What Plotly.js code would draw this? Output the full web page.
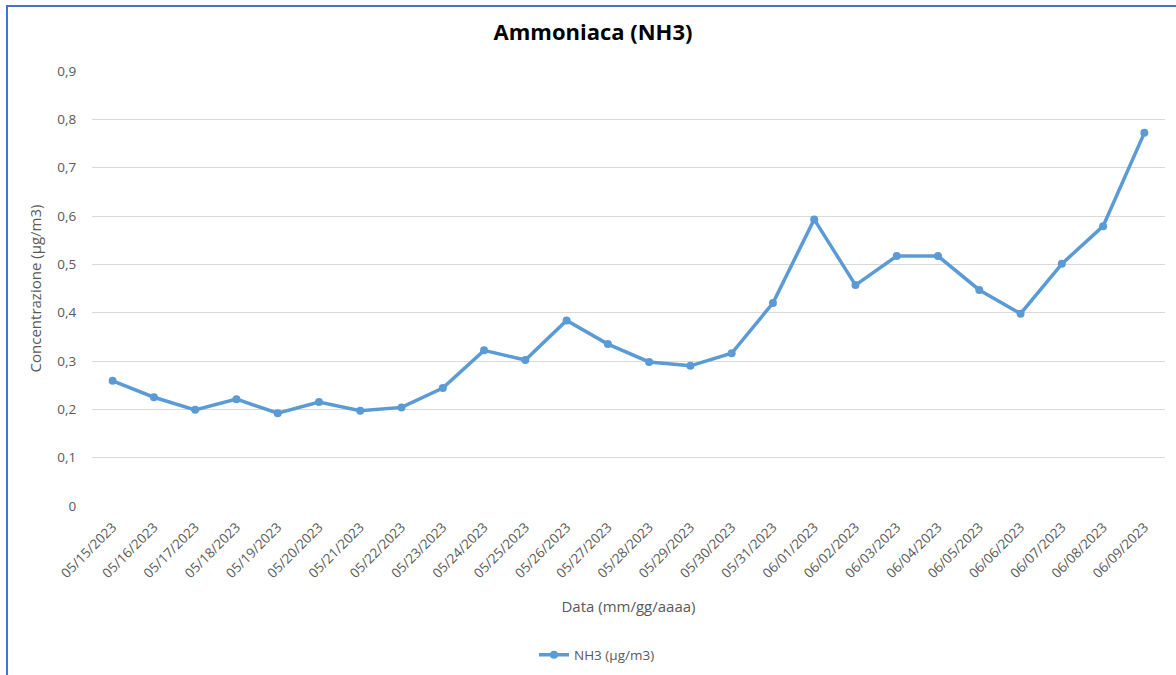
<!DOCTYPE html>
<html>
<head>
<meta charset="utf-8">
<script src="https://cdn.plot.ly/plotly-3.0.1.min.js"></script>
<style>
  html, body { margin: 0; padding: 0; width: 1176px; height: 675px; overflow: hidden; background: #fff; }
  #frame { position: absolute; left: 6px; top: 5px; width: 1200px; height: 700px; border: 2px solid #4472C4; box-sizing: border-box; }
  #chart { position: absolute; left: 0; top: 0; width: 1176px; height: 675px; }
</style>
</head>
<body>
<div id="frame"></div>
<div id="chart"></div>
<script>
const dates = ["05/15/2023","05/16/2023","05/17/2023","05/18/2023","05/19/2023","05/20/2023","05/21/2023","05/22/2023","05/23/2023","05/24/2023","05/25/2023","05/26/2023","05/27/2023","05/28/2023","05/29/2023","05/30/2023","05/31/2023","06/01/2023","06/02/2023","06/03/2023","06/04/2023","06/05/2023","06/06/2023","06/07/2023","06/08/2023","06/09/2023"];
const nh3 = [0.259,0.225,0.199,0.221,0.192,0.215,0.197,0.204,0.244,0.322,0.302,0.384,0.335,0.298,0.290,0.316,0.420,0.593,0.457,0.517,0.517,0.447,0.398,0.501,0.579,0.772];
const seriesName = "NH3 (µg/m3)";
const chartTitle = "Ammoniaca (NH3)";
const xTitle = "Data (mm/gg/aaaa)";
const yTitle = "Concentrazione (µg/m3)";

const font = "'Open Sans', 'DejaVu Sans', sans-serif";
const grey = "#595959";

const trace = {
  x: dates, y: nh3, type: "scatter", mode: "lines+markers", name: seriesName,
  line: { color: "#5B9BD5", width: 3.5 },
  marker: { color: "#5B9BD5", size: 8, symbol: "circle" }
};

const layout = {
  width: 1176, height: 675,
  paper_bgcolor: "rgba(0,0,0,0)", plot_bgcolor: "rgba(0,0,0,0)",
  margin: { l: 92, r: 11, t: 71, b: 169 },
  separators: ",.",
  font: { family: font, color: grey, size: 13 },
  title: { text: chartTitle, font: { family: font, size: 22, color: "#000", weight: "bold" }, x: 593/1176, xref: "container", xanchor: "center", y: 1 - 32/675, yref: "container", yanchor: "middle" },
  showlegend: true,
  legend: { orientation: "h", x: 597/1176, xref: "container", xanchor: "center", y: 1 - 655/675, yref: "container", yanchor: "middle", font: { family: font, size: 13.5, color: grey } },
  xaxis: {
    type: "category", range: [-0.5, dates.length - 0.5], tickangle: -45, showgrid: false, zeroline: false, showline: false,
    ticks: "outside", ticklen: 7, tickcolor: "rgba(0,0,0,0)",
    tickfont: { family: font, size: 13.5, color: grey },
    title: { text: xTitle, font: { family: font, size: 15, color: grey }, standoff: 20 },
    automargin: false
  },
  yaxis: {
    range: [0, 0.9], dtick: 0.1, tick0: 0, showgrid: true, gridcolor: "#d9d9d9", gridwidth: 1,
    zeroline: false, showline: false,
    ticks: "outside", ticklen: 12, tickcolor: "rgba(0,0,0,0)",
    tickfont: { family: font, size: 13.5, color: grey },
    title: { text: yTitle, font: { family: font, size: 15, color: grey }, standoff: 12 },
    automargin: false
  }
};

Plotly.newPlot("chart", [trace], layout, { displayModeBar: false, staticPlot: true });
</script>
</body>
</html>
